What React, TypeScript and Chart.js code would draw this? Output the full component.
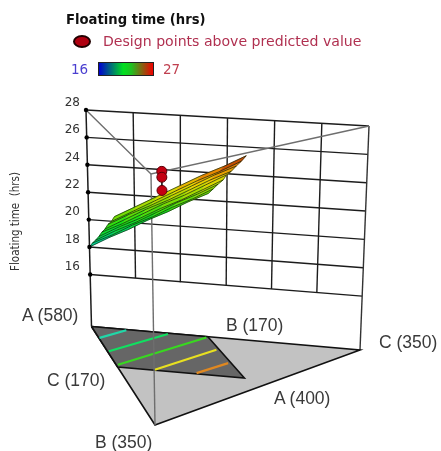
import React, { useEffect, useRef } from "react";
import { Chart, registerables } from "chart.js";

Chart.register(...registerables);

// --- values ---
const zTicks = [16, 18, 20, 22, 24, 26, 28];
const wallA = [550, 520, 490, 460, 430];

const regionB = [170, 170, 244, 244];
const regionC = [170, 248, 255, 170];

// surface mesh: rows along B, columns as a share of the C range of the row
const meshB = [170, 179, 188, 198, 207, 216, 225, 235, 244];
const meshCEnd = [248, 249, 250, 251, 251, 252, 253, 254, 255];
const meshShare = [0, 0.167, 0.333, 0.5, 0.667, 0.833, 1];
const meshZ = [
  [18.0, 18.8, 19.5, 20.3, 21.0, 21.8, 22.5],
  [18.6, 19.3, 20.1, 20.8, 21.6, 22.3, 23.1],
  [19.1, 19.9, 20.6, 21.4, 22.2, 22.9, 23.7],
  [19.7, 20.5, 21.2, 22.0, 22.7, 23.5, 24.3],
  [20.3, 21.0, 21.8, 22.6, 23.3, 24.1, 24.9],
  [20.8, 21.6, 22.4, 23.1, 23.9, 24.7, 25.4],
  [21.4, 22.2, 22.9, 23.7, 24.5, 25.3, 26.0],
  [21.9, 22.7, 23.5, 24.3, 25.1, 25.8, 26.6],
  [22.5, 23.3, 24.1, 24.9, 25.7, 26.4, 27.2],
];

// floor contours: [B, C] at both ends
const contourB1 = [190.6, 215.1, 239.5, 243.1, 242.5];
const contourC1 = [170.5, 171, 171.3, 195.1, 223.3];
const contourB2 = [171.4, 171.5, 171.7, 193.9, 217.8];
const contourC2 = [193, 220.9, 246.6, 248.1, 250.3];
const contourColors = ["#20d8a8", "#10e060", "#38d820", "#e8e020", "#e08820"];

const designB = [244, 244, 244];
const designC = [201, 201, 201];
const designZ = [25.8, 25.4, 24.5];
const designBaseZ = 24.2;

// colour scale
const colorZ = [16, 18, 19.5, 21, 23, 24.5, 26, 27.2];
const colorR = [0, 0, 0, 20, 140, 235, 230, 150];
const colorG = [0, 200, 215, 225, 220, 215, 120, 20];
const colorB = [255, 190, 90, 20, 0, 0, 0, 0];

// --- view of the prism ---
const TOTAL = 920;
const Z_FLOOR = 12.2;
const Z_TOP = 28;
const floorPos = { A: [91.5, 326.5], B: [155, 425], C: [360, 350] };
const topPos = { A: [86, 110], B: [151, 174], C: [369, 126] };
const W = 441;
const H = 451;
const AREA_LEFT = 82;
const AREA_BOTTOM = 443;
const toYValue = (py: number) => 28 - (py - 110) / 13.65;

function project(B: number, C: number, z: number) {
  const A = TOTAL - B - C;
  const u = { A: (A - 400) / 180, B: (B - 170) / 180, C: (C - 170) / 180 };
  const t = (z - Z_FLOOR) / (Z_TOP - Z_FLOOR);
  let x = 0;
  let y = 0;
  (["A", "B", "C"] as const).forEach((k) => {
    x += u[k] * (floorPos[k][0] + t * (topPos[k][0] - floorPos[k][0]));
    y += u[k] * (floorPos[k][1] + t * (topPos[k][1] - floorPos[k][1]));
  });
  return { x, y: toYValue(y) };
}

function zColor(z: number) {
  let i = 0;
  while (i < colorZ.length - 2 && z > colorZ[i + 1]) i++;
  const f = Math.min(1, Math.max(0, (z - colorZ[i]) / (colorZ[i + 1] - colorZ[i])));
  const mix = (a: number[]) => Math.round(a[i] + f * (a[i + 1] - a[i]));
  return `rgb(${mix(colorR)},${mix(colorG)},${mix(colorB)})`;
}

function buildDatasets() {
  const list: any[] = [];
  const line = (data: any[], color: string, width: number) =>
    list.push({ data, borderColor: color, borderWidth: width, showLine: true, pointRadius: 0, fill: false, clip: false });
  const shape = (data: any[], color: string, border: string, width: number) =>
    list.push({ data, backgroundColor: color, borderColor: border, borderWidth: width, showLine: true, pointRadius: 0, fill: "shape", clip: false });

  const GRID = "#1c1c1c";
  // back wall
  zTicks.forEach((z) => line([project(170, 170, z), project(170, 350, z)], GRID, 1.4));
  wallA.forEach((a) => {
    const c = TOTAL - 170 - a;
    line([project(170, c, 16), project(170, c, 28)], GRID, 1.4);
  });
  line([project(170, 170, Z_FLOOR), project(170, 170, 28)], GRID, 1.5);
  line([project(170, 350, Z_FLOOR), project(170, 350, 28)], "#333333", 1.4);
  // top wires
  line([project(170, 170, 28), project(350, 170, 28), project(170, 350, 28)], "#6e6e6e", 1.4);
  // floor
  const tri = [project(170, 170, Z_FLOOR), project(350, 170, Z_FLOOR), project(170, 350, Z_FLOOR), project(170, 170, Z_FLOOR)];
  shape(tri, "#c2c2c2", "#111111", 1.6);
  const reg = regionB.map((b, i) => project(b, regionC[i], Z_FLOOR));
  shape([...reg, reg[0]], "#666666", "#111111", 1.6);
  contourB1.forEach((b, i) =>
    line([project(b, contourC1[i], Z_FLOOR), project(contourB2[i], contourC2[i], Z_FLOOR)], contourColors[i], 2.2)
  );
  line([project(350, 170, Z_FLOOR), project(350, 170, 28)], "#6e6e6e", 1.4);
  // surface
  const node = (r: number, c: number) =>
    project(meshB[r], 170 + meshShare[c] * (meshCEnd[r] - 170), meshZ[r][c]);
  for (let r = 0; r < meshB.length - 1; r++) {
    for (let c = 0; c < meshShare.length - 1; c++) {
      const col = zColor((meshZ[r][c] + meshZ[r + 1][c] + meshZ[r][c + 1] + meshZ[r + 1][c + 1]) / 4);
      shape([node(r, c), node(r, c + 1), node(r + 1, c + 1), node(r + 1, c), node(r, c)], col, col, 0.6);
    }
  }
  meshB.forEach((_, r) => line(meshShare.map((_s, c) => node(r, c)), "rgba(10,30,10,0.78)", 0.9));
  meshShare.forEach((_, c) => {
    if (c === 0 || c === meshShare.length - 1) line(meshB.map((_b, r) => node(r, c)), "rgba(10,30,10,0.65)", 0.9);
  });
  // axis dots
  list.push({
    data: zTicks.map((z) => project(170, 170, z)),
    pointRadius: 2.2,
    backgroundColor: "#000000",
    borderColor: "#000000",
    borderWidth: 0,
    showLine: false,
    clip: false,
  });
  // design points
  line([project(designB[0], designC[0], designZ[0]), project(designB[0], designC[0], designBaseZ)], "#111111", 1.6);
  list.push({
    data: designZ.map((z, i) => project(designB[i], designC[i], z)),
    pointRadius: 5,
    backgroundColor: "#c40012",
    borderColor: "#5a0008",
    borderWidth: 1,
    showLine: false,
    clip: false,
  });
  list.forEach((d, i) => {
    d.order = list.length - i;
    d.tension = 0;
  });
  return list;
}

const floorLabels = [
  { text: "A (580)", x: 22, y: 305 },
  { text: "B (170)", x: 226, y: 315 },
  { text: "C (350)", x: 379, y: 332 },
  { text: "C (170)", x: 47, y: 370 },
  { text: "A (400)", x: 274, y: 388 },
  { text: "B (350)", x: 95, y: 432 },
];

const abs = (x: number, y: number): React.CSSProperties => ({ position: "absolute", left: x, top: y, whiteSpace: "nowrap" });

export default function App() {
  const ref = useRef<HTMLCanvasElement>(null);
  useEffect(() => {
    const chart = new Chart(ref.current!, {
      type: "scatter",
      data: { datasets: buildDatasets() },
      options: {
        animation: false,
        responsive: false,
        layout: { autoPadding: false, padding: { left: 0, right: 0, top: 0, bottom: H - AREA_BOTTOM } },
        plugins: { legend: { display: false }, tooltip: { enabled: false }, title: { display: false } },
        scales: {
          x: { type: "linear", min: AREA_LEFT, max: W, display: false },
          y: {
            type: "linear",
            min: toYValue(AREA_BOTTOM),
            max: toYValue(0),
            position: "left",
            grid: { display: false, drawTicks: false },
            border: { display: false },
            afterBuildTicks: (s: any) => {
              s.ticks = zTicks.map((value) => ({ value }));
            },
            afterFit: (s: any) => {
              s.width = AREA_LEFT;
              s.paddingTop = 0;
              s.paddingBottom = 0;
            },
            ticks: {
              autoSkip: false,
              padding: 2,
              labelOffset: -7,
              color: "#333333",
              font: { family: "DejaVu Sans", size: 12 },
              callback: (v: any) => String(v),
            },
            title: {
              display: true,
              text: "Floating time  (hrs)",
              color: "#333333",
              font: { family: "DejaVu Sans Condensed, DejaVu Sans", size: 11.5 },
              padding: { top: 9, bottom: 0 },
            },
          },
        },
      },
    } as any);
    return () => chart.destroy();
  }, []);

  return (
    <div style={{ position: "absolute", left: 0, top: 0, width: W, height: H, overflow: "hidden", background: "#fff", filter: "blur(0.4px)" }}>
      <canvas ref={ref} width={W} height={H} style={{ display: "block", width: W, height: H }} />
      <div style={{ ...abs(66, 12), font: "bold 13.2px 'DejaVu Sans'", color: "#111" }}>Floating time (hrs)</div>
      <div style={{ ...abs(73, 35), width: 14, height: 9, borderRadius: "50%", background: "#b00010", border: "2px solid #200" }} />
      <div style={{ ...abs(103, 33), font: "14.1px 'DejaVu Sans'", color: "#b03050" }}>Design points above predicted value</div>
      <div style={{ ...abs(71, 61), font: "13.5px 'DejaVu Sans'", color: "#4a3fd0" }}>16</div>
      <div style={{ ...abs(98, 62), width: 54, height: 12, border: "1px solid #222", background: "linear-gradient(to right,#0000d0,#00e020 45%,#20c020 60%,#f00000)" }} />
      <div style={{ ...abs(163, 61), font: "13.5px 'DejaVu Sans'", color: "#c04050" }}>27</div>
      {floorLabels.map((l) => (
        <div key={l.text} style={{ ...abs(l.x, l.y), font: "17.5px 'Liberation Sans'", color: "#3a3a3a" }}>{l.text}</div>
      ))}
    </div>
  );
}
